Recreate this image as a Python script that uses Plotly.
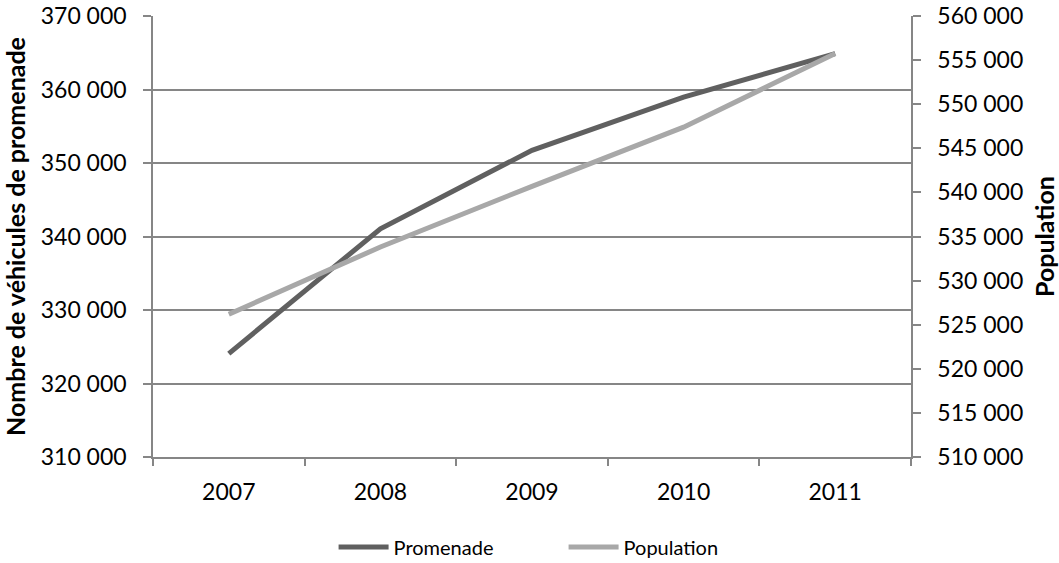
import plotly.graph_objects as go

years = ["2007", "2008", "2009", "2010", "2011"]
promenade = [324070, 341050, 351730, 358950, 364880]
population = [526180, 533810, 540690, 547400, 555740]

left_ticks = [310000, 320000, 330000, 340000, 350000, 360000, 370000]
right_ticks = [510000, 515000, 520000, 525000, 530000, 535000, 540000, 545000, 550000, 555000, 560000]

FONT = "Lato, 'Open Sans', sans-serif"
AX = "#868686"
TICK_SIZE = 23

fig = go.Figure()
fig.add_trace(go.Scatter(x=years, y=promenade, name="Promenade", mode="lines",
                         line=dict(color="#606060", width=5), yaxis="y"))
fig.add_trace(go.Scatter(x=years, y=population, name="Population", mode="lines",
                         line=dict(color="#a8a8a8", width=5), yaxis="y2"))

fig.update_layout(
    width=1059, height=563,
    margin=dict(l=153, r=148, t=16, b=106, autoexpand=False),
    paper_bgcolor="white", plot_bgcolor="white",
    separators=", ",
    font=dict(family=FONT, size=TICK_SIZE, color="#000000"),
    showlegend=True,
    legend=dict(orientation="h", x=0.315, xanchor="left", xref="container",
                y=16 / 563, yanchor="middle", yref="container",
                font=dict(size=20), traceorder="normal", itemwidth=50,
                entrywidth=165, entrywidthmode="pixels"),
    xaxis=dict(type="category", range=[-0.5, 4.5], tickson="boundaries",
               ticks="outside", ticklen=7, tickcolor=AX, tickwidth=1.5,
               showline=True, linecolor=AX, linewidth=1.5, showgrid=False,
               zeroline=False, ticklabelstandoff=14,
               tickfont=dict(size=TICK_SIZE)),
    yaxis=dict(range=[310000, 370000], tickvals=left_ticks, tickformat=",d",
               ticks="outside", ticklen=8, tickcolor=AX, tickwidth=1.5,
               showline=True, linecolor=AX, linewidth=1.5, showgrid=True,
               gridcolor=AX, gridwidth=1.5, zeroline=False, ticklabelstandoff=12,
               tickfont=dict(size=TICK_SIZE),
               title=dict(text="<b>Nombre de véhicules de promenade</b>",
                          font=dict(size=25), standoff=12)),
    yaxis2=dict(range=[510000, 560000], tickvals=right_ticks, tickformat=",d",
                overlaying="y", side="right", ticks="outside", ticklen=8,
                tickcolor=AX, tickwidth=1.5, showline=True, linecolor=AX,
                linewidth=1.5, showgrid=False, zeroline=False, ticklabelstandoff=12,
                tickfont=dict(size=TICK_SIZE),
                title=dict(text="<b>Population</b>", font=dict(size=25), standoff=16)),
)

fig.write_html("out.html", config={"displayModeBar": False},
               post_script="document.body.style.margin='0';")
